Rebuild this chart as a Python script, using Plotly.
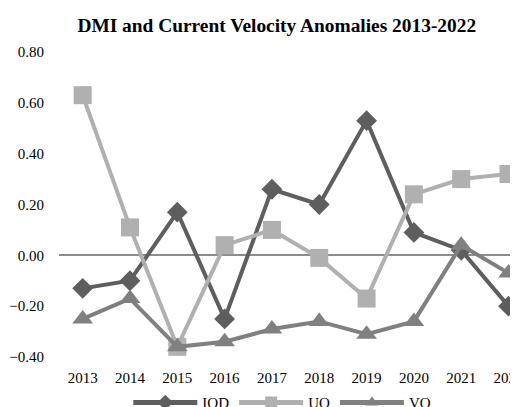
import plotly.graph_objects as go

years = ["2013", "2014", "2015", "2016", "2017", "2018", "2019", "2020", "2021", "2022"]
iod = [-0.13, -0.10, 0.17, -0.25, 0.26, 0.20, 0.53, 0.09, 0.02, -0.20]
uo = [0.63, 0.11, -0.36, 0.04, 0.10, -0.01, -0.17, 0.24, 0.30, 0.32]
vo = [-0.25, -0.17, -0.36, -0.34, -0.29, -0.26, -0.31, -0.26, 0.04, -0.07]
y_ticks = [-0.4, -0.2, 0.0, 0.2, 0.4, 0.6, 0.8]

FONT = "Liberation Serif, Times New Roman, serif"

fig = go.Figure()
fig.add_trace(go.Scatter(x=years, y=iod, name="IOD", mode="lines+markers",
                         line=dict(color="#5e5e5e", width=4),
                         marker=dict(symbol="diamond", size=16, color="#5e5e5e")))
fig.add_trace(go.Scatter(x=years, y=uo, name="UO", mode="lines+markers",
                         line=dict(color="#b0b0b0", width=4),
                         marker=dict(symbol="square", size=18, color="#b0b0b0")))
fig.add_trace(go.Scatter(x=years, y=vo, name="VO", mode="lines+markers",
                         line=dict(color="#808080", width=4),
                         marker=dict(symbol="triangle-up", size=18, color="#808080")))

# page body has an 8px default margin, so the figure is 8px smaller
fig.update_layout(
    width=510, height=399,
    margin=dict(l=51, r=0, t=44, b=50, autoexpand=False),
    paper_bgcolor="white", plot_bgcolor="white",
    font=dict(family=FONT, size=15, color="#000000"),
    title=dict(text="<b>DMI and Current Velocity Anomalies 2013-2022</b>",
               x=0.527, xanchor="center", y=0.957, yanchor="middle",
               font=dict(family=FONT, size=19.4, color="#000000")),
    xaxis=dict(type="category", range=[-0.5, 9.2], showgrid=False, showline=False,
               zeroline=False, ticks="", ticklabelstandoff=10,
               tickfont=dict(family=FONT, size=15)),
    yaxis=dict(range=[-0.4, 0.8], tickvals=y_ticks, tickformat=".2f", showgrid=False,
               zeroline=True, zerolinecolor="#8c8c8c", zerolinewidth=1.5,
               showline=False, ticks="", ticklabelstandoff=14,
               tickfont=dict(family=FONT, size=15)),
    legend=dict(orientation="h", x=0.151, xanchor="left", y=-0.150, yanchor="middle",
                itemwidth=64, itemsizing="constant",
                font=dict(family=FONT, size=15), bgcolor="rgba(0,0,0,0)"),
    showlegend=True,
)

fig.write_html("out.html")
